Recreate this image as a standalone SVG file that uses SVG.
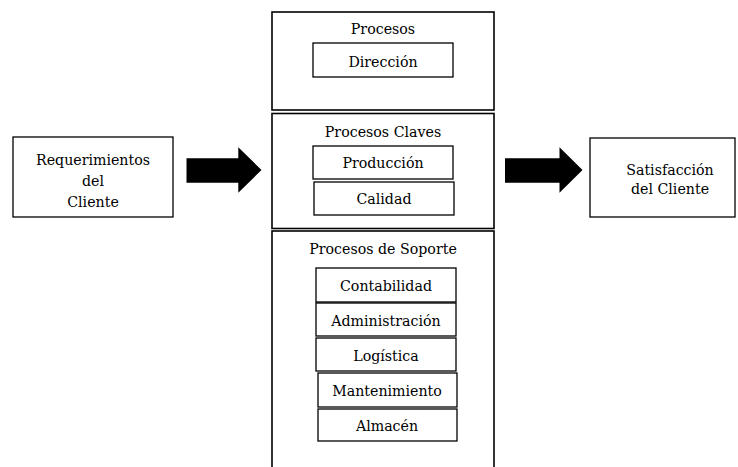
<svg xmlns="http://www.w3.org/2000/svg" width="738" height="467" viewBox="0 0 738 467">
  <style>
    .box { fill: #fff; stroke: #000; stroke-width: 1.3; }
    .panel { fill: #fff; stroke: #000; stroke-width: 1.6; }
    .arrow { fill: #000; stroke: none; }
    .lbl { font-family: 'DejaVu Serif', serif; font-size: 14.2px; fill: #000; text-anchor: middle; }
  </style>

  <!-- Input node -->
  <g id="requerimientos">
    <rect class="box" x="13" y="137" width="160" height="80"/>
    <text class="lbl" x="93" y="165">Requerimientos</text>
    <text class="lbl" x="93" y="186">del</text>
    <text class="lbl" x="93" y="207">Cliente</text>
  </g>

  <!-- Central process column -->
  <g id="procesos">
    <rect class="panel" x="272" y="12" width="222" height="98"/>
    <text class="lbl" x="383" y="34">Procesos</text>
    <g id="direccion">
      <rect class="box" x="313" y="43" width="140" height="34"/>
      <text class="lbl" x="383" y="67">Dirección</text>
    </g>
  </g>

  <g id="procesos-claves">
    <rect class="panel" x="272" y="113.5" width="222" height="115"/>
    <text class="lbl" x="383" y="137">Procesos Claves</text>
    <g id="produccion">
      <rect class="box" x="313" y="146" width="140" height="33"/>
      <text class="lbl" x="383" y="168">Producción</text>
    </g>
    <g id="calidad">
      <rect class="box" x="314" y="182" width="140" height="33"/>
      <text class="lbl" x="384" y="204">Calidad</text>
    </g>
  </g>

  <g id="procesos-soporte">
    <rect class="panel" x="272" y="231" width="222" height="250"/>
    <text class="lbl" x="383" y="254">Procesos de Soporte</text>
    <g id="contabilidad">
      <rect class="box" x="316" y="268" width="140" height="34"/>
      <text class="lbl" x="386" y="291">Contabilidad</text>
    </g>
    <g id="administracion">
      <rect class="box" x="316" y="303" width="140" height="33"/>
      <text class="lbl" x="386" y="326">Administración</text>
    </g>
    <g id="logistica">
      <rect class="box" x="316" y="338" width="140" height="33"/>
      <text class="lbl" x="386" y="361">Logística</text>
    </g>
    <g id="mantenimiento">
      <rect class="box" x="318" y="373" width="139" height="34"/>
      <text class="lbl" x="387" y="396">Mantenimiento</text>
    </g>
    <g id="almacen">
      <rect class="box" x="318" y="409" width="139" height="32"/>
      <text class="lbl" x="387" y="431">Almacén</text>
    </g>
  </g>

  <!-- Output node -->
  <g id="satisfaccion">
    <rect class="box" x="590" y="138" width="145" height="79"/>
    <text class="lbl" x="670" y="175">Satisfacción</text>
    <text class="lbl" x="670" y="194">del Cliente</text>
  </g>

  <!-- Block arrows -->
  <g id="connectors">
    <polygon class="arrow" points="186.5,158.3 238.3,158.3 238.3,147.3 261.5,170 238.3,192.7 238.3,182.7 186.5,182.7"/>
    <polygon class="arrow" points="505,158.3 559.5,158.3 559.5,147.3 582.5,170 559.5,192.7 559.5,182.7 505,182.7"/>
  </g>
</svg>
